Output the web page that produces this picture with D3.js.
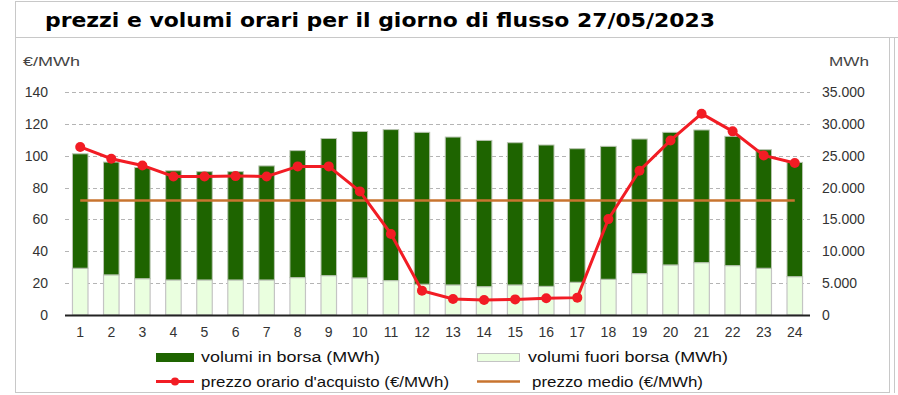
<!DOCTYPE html>
<html>
<head>
<meta charset="utf-8">
<script src="https://cdn.jsdelivr.net/npm/d3@7"></script>
<style>
  body { margin: 0; background: #fff; }
  svg { display: block; }
  text { font-family: "Liberation Sans", Arial, sans-serif; }
</style>
</head>
<body>
<div id="chart"></div>
<script>
// hours of the day
const hours = d3.range(1, 25)
// volumi fuori borsa (MWh)
const volFuori = [7340, 6300, 5700, 5500, 5500, 5500, 5500, 5870, 6180, 5820, 5400, 4830,
    4720, 4450, 4720, 4500, 5140, 5610, 6500, 7860, 8220, 7750, 7340, 6020]
// volumi in borsa (MWh), stacked on top of fuori borsa
const volBorsa = [17960, 17700, 17450, 17140, 17000, 17000, 17900, 19930, 21520, 22980, 23700, 23840,
    23210, 22950, 22320, 22180, 20960, 20860, 21120, 20810, 20820, 20290, 18600, 17930]
// prezzo orario d'acquisto (€/MWh)
const prezzo = [105.5, 98.1, 93.9, 87.0, 87.0, 87.2, 87.0, 93.3, 93.3, 77.6, 50.9, 15.3,
    10.1, 9.4, 9.8, 10.5, 10.9, 60.2, 90.6, 109.6, 126.4, 115.3, 100.2, 95.4]
// prezzo medio (€/MWh)
const prezzoMedio = 71.9
const leftTicks = [0, 20, 40, 60, 80, 100, 120, 140]
const rightTicks = [0, 5000, 10000, 15000, 20000, 25000, 30000, 35000]

const W = 898, H = 395

const svg = d3.select('#chart').append('svg')
    .attr('width', W)
    .attr('height', H)

// frame lines
const frame = svg.append('g').attr('stroke', '#c8c8c8').attr('fill', 'none')
frame.append('line').attr('x1', 15).attr('x2', W).attr('y1', 1.5).attr('y2', 1.5)
frame.append('line').attr('x1', 15).attr('x2', W).attr('y1', 37.5).attr('y2', 37.5)
frame.append('line').attr('x1', 15.5).attr('x2', 15.5).attr('y1', 1).attr('y2', 393)
frame.append('line').attr('x1', 15).attr('x2', 889).attr('y1', 392.5).attr('y2', 392.5)
frame.append('line').attr('x1', 889.5).attr('x2', 889.5).attr('y1', 37).attr('y2', 393)
frame.append('line').attr('x1', 894.5).attr('x2', 894.5).attr('y1', 37).attr('y2', 393)

// title
svg.append('text')
    .attr('x', 45)
    .attr('y', 27)
    .style('font-family', '"DejaVu Sans", Verdana, sans-serif')
    .style('font-weight', 'bold')
    .style('font-size', '20px')
    .attr('fill', '#000')
    .attr('textLength', 670)
    .attr('lengthAdjust', 'spacingAndGlyphs')
    .text('prezzi e volumi orari per il giorno di flusso 27/05/2023')

const xScale = d3.scaleBand()
    .domain(hours)
    .range([65, 810])
    .paddingInner(0.5)
    .paddingOuter(0.24)

const yLeft = d3.scaleLinear().domain([0, 140]).range([315, 92])
const yRight = d3.scaleLinear().domain([0, 35000]).range([315, 92])

// grid lines
svg.append('g')
    .selectAll('line')
    .data(leftTicks.slice(1))
    .enter().append('line')
    .attr('x1', 65).attr('x2', 810)
    .attr('y1', d => Math.round(yLeft(d)) + 0.5)
    .attr('y2', d => Math.round(yLeft(d)) + 0.5)
    .attr('stroke', '#b4b4b4')
    .attr('stroke-dasharray', '4,3')

// left axis
const leftAxis = d3.axisLeft(yLeft).tickValues(leftTicks).tickSize(0).tickPadding(0)
svg.append('g')
    .attr('transform', 'translate(48,0)')
    .call(leftAxis)
    .call(g => g.select('.domain').remove())
    .selectAll('text')
    .style('font-size', '14px')
    .style('font-family', '"Liberation Sans", Arial, sans-serif')
    .attr('fill', '#333')

// right axis
const itFormat = d3.formatLocale({decimal: ',', thousands: '.', grouping: [3], currency: ['€', '']}).format(',')
const rightAxis = d3.axisRight(yRight).tickValues(rightTicks).tickSize(0).tickPadding(0).tickFormat(itFormat)
svg.append('g')
    .attr('transform', 'translate(822,0)')
    .call(rightAxis)
    .call(g => g.select('.domain').remove())
    .selectAll('text')
    .style('font-size', '14px')
    .style('font-family', '"Liberation Sans", Arial, sans-serif')
    .attr('fill', '#333')

// axis titles
svg.append('text').attr('x', 23).attr('y', 66)
    .style('font-size', '12px').attr('fill', '#444')
    .attr('textLength', 57).attr('lengthAdjust', 'spacingAndGlyphs')
    .text('€/MWh')
svg.append('text').attr('x', 829).attr('y', 66)
    .style('font-size', '12px').attr('fill', '#444')
    .attr('textLength', 40).attr('lengthAdjust', 'spacingAndGlyphs')
    .text('MWh')

// stacked bars
const bw = xScale.bandwidth()
const bars = svg.append('g')
bars.selectAll('rect.fuori')
    .data(hours)
    .enter().append('rect')
    .attr('class', 'fuori')
    .attr('x', d => xScale(d))
    .attr('width', bw)
    .attr('y', (d, i) => yRight(volFuori[i]))
    .attr('height', (d, i) => yRight(0) - yRight(volFuori[i]))
    .attr('fill', '#eaffdf')
    .attr('stroke', '#c4c4c4')
    .attr('stroke-width', 1.2)
bars.selectAll('rect.borsa')
    .data(hours)
    .enter().append('rect')
    .attr('class', 'borsa')
    .attr('x', d => xScale(d))
    .attr('width', bw)
    .attr('y', (d, i) => yRight(volFuori[i] + volBorsa[i]))
    .attr('height', (d, i) => yRight(volFuori[i]) - yRight(volFuori[i] + volBorsa[i]))
    .attr('fill', '#1e6400')
    .attr('stroke', '#b8c4b0')
    .attr('stroke-width', 1)

// x axis
const xAxis = d3.axisBottom(xScale).tickSize(0).tickPadding(0)
svg.append('g')
    .attr('transform', 'translate(0,315)')
    .call(xAxis)
    .call(g => g.select('.domain').remove())
    .selectAll('text')
    .attr('dy', '1.6em')
    .style('font-size', '14px')
    .style('font-family', '"Liberation Sans", Arial, sans-serif')
    .attr('fill', '#333')
svg.append('line')
    .attr('x1', 65).attr('x2', 810)
    .attr('y1', 315.5).attr('y2', 315.5)
    .attr('stroke', '#222').attr('stroke-width', 2)

// average price line
const cx = d => xScale(d) + bw / 2
svg.append('line')
    .attr('x1', cx(hours[0]))
    .attr('x2', cx(hours[hours.length - 1]))
    .attr('y1', yLeft(prezzoMedio))
    .attr('y2', yLeft(prezzoMedio))
    .attr('stroke', '#c8742f')
    .attr('stroke-width', 2.5)

// hourly price line
const line = d3.line()
    .x((d, i) => cx(hours[i]))
    .y(d => yLeft(d))
svg.append('path')
    .datum(prezzo)
    .attr('d', line)
    .attr('fill', 'none')
    .attr('stroke', '#f21c24')
    .attr('stroke-width', 3)
svg.append('g')
    .selectAll('circle')
    .data(prezzo)
    .enter().append('circle')
    .attr('cx', (d, i) => cx(hours[i]))
    .attr('cy', d => yLeft(d))
    .attr('r', 5)
    .attr('fill', '#f21c24')

// legend
const legend = svg.append('g').style('font-size', '14px').attr('fill', '#111')
const legendText = (x, y, len, label) => legend.append('text')
    .attr('x', x).attr('y', y)
    .attr('textLength', len).attr('lengthAdjust', 'spacingAndGlyphs')
    .text(label)
legend.append('rect').attr('x', 156).attr('y', 353).attr('width', 38).attr('height', 9)
    .attr('fill', '#1e6400')
legendText(201, 362, 179, 'volumi in borsa (MWh)')
legend.append('rect').attr('x', 477.5).attr('y', 353.5).attr('width', 42).attr('height', 8)
    .attr('fill', '#eaffdf').attr('stroke', '#c4c4c4')
legendText(528, 362, 200, 'volumi fuori borsa (MWh)')
legend.append('line').attr('x1', 156).attr('x2', 194).attr('y1', 381.5).attr('y2', 381.5)
    .attr('stroke', '#f21c24').attr('stroke-width', 3)
legend.append('circle').attr('cx', 175).attr('cy', 381.5).attr('r', 4).attr('fill', '#f21c24')
legendText(201, 387, 248, "prezzo orario d'acquisto (€/MWh)")
legend.append('line').attr('x1', 477).attr('x2', 520).attr('y1', 381.5).attr('y2', 381.5)
    .attr('stroke', '#c8742f').attr('stroke-width', 2.5)
legendText(532, 387, 171, 'prezzo medio (€/MWh)')
</script>
</body>
</html>
